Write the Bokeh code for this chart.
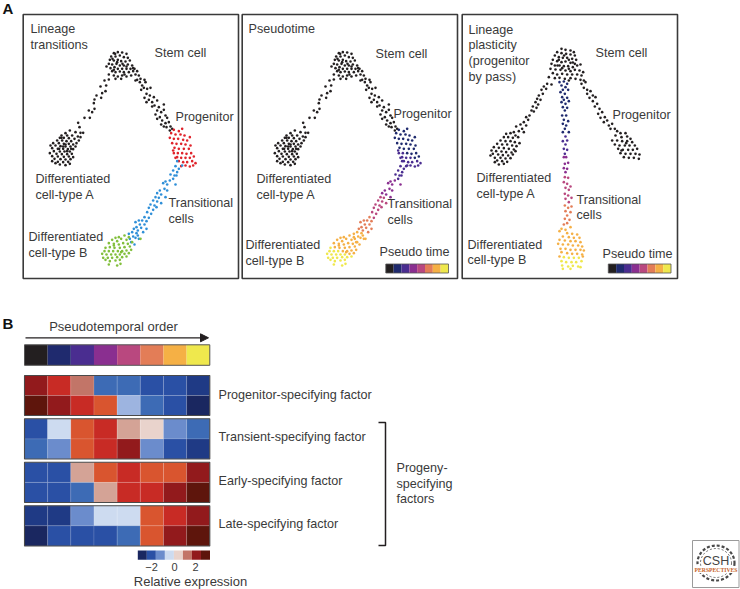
from bokeh.plotting import figure
from bokeh.embed import file_html
from bokeh.resources import INLINE
from bokeh.core.properties import value
from bokeh.models import Arrow, NormalHead
import numpy as np

# ---- scatter cells, embedding coordinates (3x image units)
stem = [(340,158),(352,155),(365,156),(378,160),(332,168),(345,168),(358,165),(370,170),(382,172),(328,178),(340,180),(352,178),(362,182),(375,183),(388,180),(325,190),(335,192),(348,190),(358,195),(370,195),(382,192),(395,195),(318,198),(330,203),(342,200),(352,205),(365,205),(378,205),(390,205),(402,205),(335,212),(345,215),(358,213),(370,215),(385,215),(398,212),(410,212),(325,222),(340,225),(352,228),(365,225),(378,228),(392,225),(405,222),(415,225),(345,235),(362,235),(410,238),(420,235),(432,238),(344,160),(336,175),(350,185),(366,190),(378,198),(340,208),(372,222),(398,203)]
right_arm = [(405,240),(418,245),(425,255),(435,245),(430,262),(440,265),(422,268),(450,262),(438,280),(448,285),(432,292),(460,290),(445,298),(455,305),(438,305),(470,300),(462,315),(475,320),(455,318),(490,312),(470,330),(482,335),(465,342),(490,328),(478,350),(495,345),(470,355),(485,360),(500,352),(482,372),(495,368),(505,365),(498,380),(510,378),(508,390),(515,385),(490,378)]
left_arm = [(325,237),(312,240),(300,258),(317,255),(315,272),(305,278),(288,285),(282,297),(302,292),(280,308),(282,325),(265,330),(275,335),(252,352),(268,352),(233,367),(237,380)]
blob_a = [(208,390),(195,398),(225,395),(240,397),(248,397),(183,405),(200,405),(215,405),(232,408),(240,410),(178,412),(190,412),(205,413),(222,415),(235,420),(170,420),(185,420),(198,422),(212,422),(228,428),(158,428),(175,428),(190,430),(205,430),(218,432),(150,435),(165,435),(180,437),(195,438),(210,438),(225,438),(155,443),(172,445),(188,445),(202,446),(218,446),(160,452),(178,453),(192,453),(208,453),(148,458),(168,460),(184,461),(200,461),(214,460),(155,467),(172,468),(190,469),(205,468),(218,470),(162,475),(180,476),(195,477),(210,476),(155,482),(172,484),(188,485),(203,484),(178,492),(195,494),(208,490),(165,488),(183,412),(195,432),(176,445),(200,452),(188,438),(212,445)]
progenitor = [(520,388),(535,392),(545,385),(512,398),(525,402),(540,402),(552,405),(568,410),(508,412),(520,415),(533,415),(548,418),(560,420),(515,428),(528,430),(542,430),(555,432),(570,435),(522,442),(535,445),(550,445),(565,445),(520,458),(532,458),(545,458),(558,460),(572,458),(530,470),(542,472),(555,472),(568,472),(580,468),(535,482),(548,485),(560,485),(575,482),(585,488),(542,497),(555,495),(568,498),(578,495),(525,472),(518,450)]
transitional = [(530,482),(545,495),(525,497),(535,505),(518,510),(530,515),(510,522),(522,525),(495,543),(508,540),(518,535),(488,548),(528,525),(500,552),(525,552),(478,570),(492,565),(470,578),(482,582),(465,590),(500,570),(475,592),(495,590),(458,600),(470,603),(450,612),(462,615),(482,608),(445,622),(458,628),(440,635),(452,640),(468,620),(432,650),(445,652),(425,660),(438,662),(415,660),(405,665),(418,672),(432,672),(408,680),(422,682),(438,685),(400,685),(412,690),(428,695),(395,695),(408,698),(385,700),(398,708),(412,705),(388,715),(405,712),(392,725),(402,732),(415,715)]
blob_b = [(355,710),(345,712),(372,705),(385,710),(362,715),(335,718),(350,722),(378,718),(395,725),(420,715),(325,728),(340,730),(355,732),(368,728),(382,730),(315,742),(328,740),(342,742),(358,742),(372,740),(388,738),(312,752),(325,752),(338,752),(352,752),(365,752),(378,750),(392,748),(305,760),(318,762),(332,762),(345,762),(358,762),(372,760),(385,758),(308,772),(322,772),(335,772),(350,770),(365,770),(378,768),(315,778),(328,782),(345,780),(358,778),(325,792),(350,795),(360,790),(340,735),(362,755)]

stem3 = [(318,145),(330,148),(345,150),(355,155),(305,155),(318,158),(332,160),(345,162),(358,165),(298,165),(310,170),(322,172),(335,172),(350,175),(362,178),(292,178),(305,182),(318,185),(330,183),(345,187),(358,190),(288,190),(298,195),(312,195),(325,197),(338,197),(352,200),(365,195),(375,192),(285,205),(300,207),(315,208),(330,210),(345,212),(358,208),(372,210),(383,215),(292,218),(305,222),(320,220),(335,222),(350,222),(365,222),(378,225),(280,230),(298,233),(312,232),(345,233),(360,235),(375,238),(385,240),(328,235),(340,240),(310,178),(326,165),(340,178),(352,186),(320,203),(340,205),(306,195)]
left_arm3 = [(288,252),(275,250),(265,258),(272,265),(258,268),(262,280),(250,285),(245,295),(255,298),(240,305),(248,312),(232,318),(243,322),(228,330),(235,333),(222,345),(212,350),(218,358),(205,365),(212,375),(195,372),(200,385),(182,378),(190,392),(205,395),(175,395)]
blob_a3 = [(152,400),(165,398),(180,405),(145,410),(158,410),(172,412),(188,410),(135,420),(150,422),(165,422),(178,425),(192,428),(125,430),(140,432),(155,432),(170,435),(183,437),(115,440),(130,442),(145,443),(160,445),(175,447),(108,450),(122,452),(138,453),(152,455),(168,456),(180,452),(112,460),(128,462),(142,464),(158,465),(172,462),(105,465),(118,472),(135,472),(150,474),(165,473),(125,480),(140,482),(155,484),(130,492),(118,485),(145,490)]
right_arm3 = [(378,250),(390,245),(385,262),(395,268),(405,272),(395,280),(412,285),(402,292),(420,290),(412,302),(425,310),(418,318),(432,325),(428,340),(440,335),(435,352),(448,350),(455,360),(445,365),(460,375),(470,370),(465,385),(478,385),(485,392)]
blob_c3 = [(495,398),(510,398),(480,405),(498,410),(515,408),(525,415),(470,420),(485,420),(500,422),(515,422),(530,425),(478,432),(492,435),(508,435),(522,435),(538,435),(488,445),(502,448),(518,448),(532,448),(545,445),(495,458),(510,460),(525,460),(540,460),(552,462),(505,470),(520,472),(535,472),(550,475),(498,450),(512,428)]
middle3 = [(312,245),(325,243),(335,250),(318,255),(330,260),(322,268),(338,268),(315,275),(328,280),(320,290),(335,292),(325,298),(340,302),(318,305),(330,310),(322,320),(335,322),(328,330),(320,345),(332,345),(325,358),(338,362),(322,370),(332,375),(328,385),(340,395),(322,395),(330,408),(335,420),(322,422),(330,432),(325,445),(335,448),(328,460),(325,470),(332,470),(338,487),(328,490),(325,503),(335,505),(330,515),(328,530),(338,532),(325,545),(335,550),(345,558),(330,562),(340,568),(328,580),(338,585),(348,592),(330,595),(340,605),(328,615),(348,618),(338,622),(330,632),(345,635),(335,645),(328,655),(342,658),(335,668),(325,672),(345,680),(318,685),(330,688),(312,692)]
blob_d3 = [(335,698),(350,700),(365,702),(322,708),(340,710),(355,712),(372,712),(312,718),(328,720),(345,722),(360,722),(375,725),(308,730),(322,732),(338,732),(352,735),(368,735),(380,738),(315,745),(330,745),(345,748),(360,748),(375,748),(385,750),(318,755),(335,758),(350,760),(365,760),(380,762),(312,768),(325,770),(340,772),(355,772),(370,772),(382,768),(318,782),(332,785),(348,785),(362,785),(378,782),(320,795),(338,798),(352,796),(368,798),(322,805),(345,805),(375,800)]

# pseudotime bins: order along the trajectory and palette
pseudo_colors = ["#231f20", "#1f2a6e", "#4a2d90", "#8a2f90", "#b9487f", "#e37d57", "#f5b045", "#efe84d"]
trajectory_bins = [190, 280, 350, 430, 490, 578]
vertical_bins = [400, 470, 530, 610, 680, 770]
group_blue = "#2f8fd8"; group_red = "#e0242c"; group_green = "#82bf3c"; ink = "#231f20"

# heat map: palette levels
heat_palette = ["#1a2760","#1f3a85","#2a50a5","#3d6bb5","#6b8ccc","#9db4e0","#cddbf0","#e9d3cc","#d4a396","#c27568","#d9552f","#c82b25","#921a1c","#5e150c"]
progenitor_rows = [[12,11,9,3,3,2,2,1],[13,12,11,10,5,3,2,0]]
transient_rows = [[2,6,10,11,8,7,4,3],[3,4,10,11,12,4,2,1]]
early_rows = [[2,2,8,10,11,10,10,12],[2,2,3,8,11,11,12,13]]
late_rows = [[1,1,4,6,6,10,11,12],[0,2,2,2,3,10,12,13]]
scale_levels = [0,2,4,6,7,9,12,13]
scale_ticks = ["\u22122", "0", "2"]

FONT = value("Liberation Sans")
TXT = "#3a3a3a"
DOT = 2.6

p = figure(width=740, height=589, x_range=(0, 740), y_range=(589, 0), toolbar_location=None,
           output_backend="svg", min_border=0, outline_line_color=None, background_fill_color="white",
           border_fill_color="white")
p.axis.visible = False
p.grid.visible = False


def arr(pts):
    a = np.array(pts, dtype=float)
    return a[:, 0] / 3, a[:, 1] / 3


def dots(pts, dx, color):
    x, y = arr(pts)
    p.scatter(x + dx, y, size=DOT, fill_color=color, line_color=None)


def label(x, y, s, size="12.6px", style="normal", align="left", color=TXT, font=FONT):
    p.text([x], [y - 0.2], text=[s], text_font=font, text_font_size=size, text_font_style=style,
           text_color=color, text_align=align, text_baseline="middle")


# frames
for l, r in [(22.7, 238), (241.7, 457), (461.7, 677)]:
    p.quad(left=[l], right=[r], top=[14], bottom=[278], fill_color=None, line_color="#3a3a3a", line_width=1.6)

# panel 1
for g in (stem, right_arm, left_arm, blob_a):
    dots(g, 0, ink)
dots(progenitor, 0, group_red)
dots(transitional, 0, group_blue)
dots(blob_b, 0, group_green)

# panel 2: same cells, pseudotime colours
for g in (stem, right_arm, left_arm, blob_a):
    dots(g, 225, ink)
traj = np.array(progenitor + transitional + blob_b, dtype=float)
idx = np.digitize(traj[:, 1] - 0.5 * traj[:, 0], trajectory_bins) + 1
tx, ty = arr(traj)
p.scatter(tx + 225, ty, size=DOT, fill_color=[pseudo_colors[i] for i in idx], line_color=None)

# panel 3
for g in (stem3, left_arm3, blob_a3, right_arm3, blob_c3):
    dots(g, 455, ink)
trunk = np.array(middle3 + blob_d3, dtype=float)
idx3 = np.digitize(trunk[:, 1], vertical_bins) + 1
tx3, ty3 = arr(trunk)
p.scatter(tx3 + 455, ty3, size=DOT, fill_color=[pseudo_colors[i] for i in idx3], line_color=None)

# pseudotime keys
for x0 in (385.3, 607.8):
    w = 62.7 / 8
    p.quad(left=[x0 + i * w for i in range(8)], right=[x0 + (i + 1) * w for i in range(8)],
           top=[263.5] * 8, bottom=[272.5] * 8, fill_color=pseudo_colors, line_color=None)
    p.quad(left=[x0], right=[x0 + 62.7], top=[263.5], bottom=[272.5], fill_color=None, line_color="#555555", line_width=0.8)

# panel texts
panel_text = [
    (30, 29, "Lineage"), (30, 44.5, "transitions"), (154, 53, "Stem cell"), (175, 117, "Progenitor"),
    (35, 179, "Differentiated"), (35, 195, "cell-type A"), (168, 202.5, "Transitional"), (168, 218.5, "cells"),
    (28, 237, "Differentiated"), (28, 252.5, "cell-type B"),
    (248, 29, "Pseudotime"), (375, 53.5, "Stem cell"), (393, 113.5, "Progenitor"),
    (256, 179, "Differentiated"), (256, 195, "cell-type A"), (387, 204, "Transitional"), (387, 220, "cells"),
    (245, 245, "Differentiated"), (245, 261, "cell-type B"), (379, 251.5, "Pseudo time"),
    (468, 29.5, "Lineage"), (468, 45, "plasticity"), (468, 61, "(progenitor"), (468, 76.5, "by pass)"),
    (595, 53, "Stem cell"), (612, 114.5, "Progenitor"),
    (476, 178, "Differentiated"), (476, 194, "cell-type A"), (576, 199.5, "Transitional"), (576, 215, "cells"),
    (467, 244.5, "Differentiated"), (467, 260, "cell-type B"), (602, 253.5, "Pseudo time"),
]
factor_text = [
    (218, 395, "Progenitor-specifying factor"), (218, 437, "Transient-specifying factor"),
    (218, 481, "Early-specifying factor"), (218, 524, "Late-specifying factor"),
    (396, 468, "Progeny-"), (396, 483.5, "specifying"), (396, 499, "factors"),
]
for x, y, s in panel_text + factor_text:
    label(x, y, s)
label(2, 8.5, "A", size="15px", style="bold", color="#111111")
label(2, 323, "B", size="15px", style="bold", color="#111111")
label(113, 326.5, "Pseudotemporal order", align="center", size="13px")

# arrow
p.add_layout(Arrow(end=NormalHead(size=8, fill_color="#231f20", line_color="#231f20"),
                   x_start=25, y_start=337.3, x_end=208, y_end=337.3, line_color="#231f20", line_width=1.2))

# heat map
X0, X1 = 24.0, 209.3
cw = (X1 - X0) / 8
p.quad(left=[X0 + i * cw for i in range(8)], right=[X0 + (i + 1) * cw for i in range(8)],
       top=[344.3] * 8, bottom=[364.8] * 8, fill_color=pseudo_colors, line_color=None)
p.quad(left=[X0], right=[X1], top=[344.3], bottom=[364.8], fill_color=None, line_color="#555555", line_width=1)

blocks = [(progenitor_rows, 375, 415), (transient_rows, 418.3, 458.5), (early_rows, 461.8, 502), (late_rows, 505.2, 545.5)]
for rows, top, bottom in blocks:
    mid = (top + bottom) / 2
    for r, (a, b) in zip(rows, [(top, mid), (mid, bottom)]):
        p.quad(left=[X0 + i * cw for i in range(8)], right=[X0 + (i + 1) * cw for i in range(8)],
               top=[a] * 8, bottom=[b] * 8, fill_color=[heat_palette[v] for v in r],
               line_color="#ffffff", line_alpha=0.16, line_width=0.8)
    p.quad(left=[X0], right=[X1], top=[top], bottom=[bottom], fill_color=None, line_color="#4a4a4a", line_width=1.1)

# colour scale
sx0, sx1 = 137.3, 209.5
sw = (sx1 - sx0) / 8
p.quad(left=[sx0 + i * sw for i in range(8)], right=[sx0 + (i + 1) * sw for i in range(8)],
       top=[550] * 8, bottom=[559.3] * 8, fill_color=[heat_palette[v] for v in scale_levels], line_color=None)
for x, s in zip([151, 174, 195], scale_ticks):
    label(x, 567, s, size="11px", align="center")
label(190, 581, "Relative expression", align="center", size="13px")

# bracket
p.line([378, 385, 385, 378], [422, 422, 545, 545], line_color="#231f20", line_width=1.5)

# publisher mark
p.quad(left=[692], right=[738.5], top=[540], bottom=[587], fill_color="white", line_color="#9a9a9a", line_width=1)
p.ellipse([715.5], [562.5], width=[37], height=[35], fill_color=None, line_color="#4a4a4a", line_width=2.2, line_dash="3 2")
p.ellipse([715.5], [562.5], width=[31], height=[29], fill_color=None, line_color="#6a6a6a", line_width=1, line_dash="2 2")
p.quad(left=[693.5], right=[737.5], top=[565.5], bottom=[572.5], fill_color="white", line_color=None)
label(715.5, 560.5, "CSH", size="12.5px", align="center", color="#444444")
label(715.5, 569.8, "PERSPECTIVES", size="5.7px", style="bold", align="center", color="#c8642a", font=value("Liberation Serif"))

open("out.html", "w").write(file_html(p, INLINE))
